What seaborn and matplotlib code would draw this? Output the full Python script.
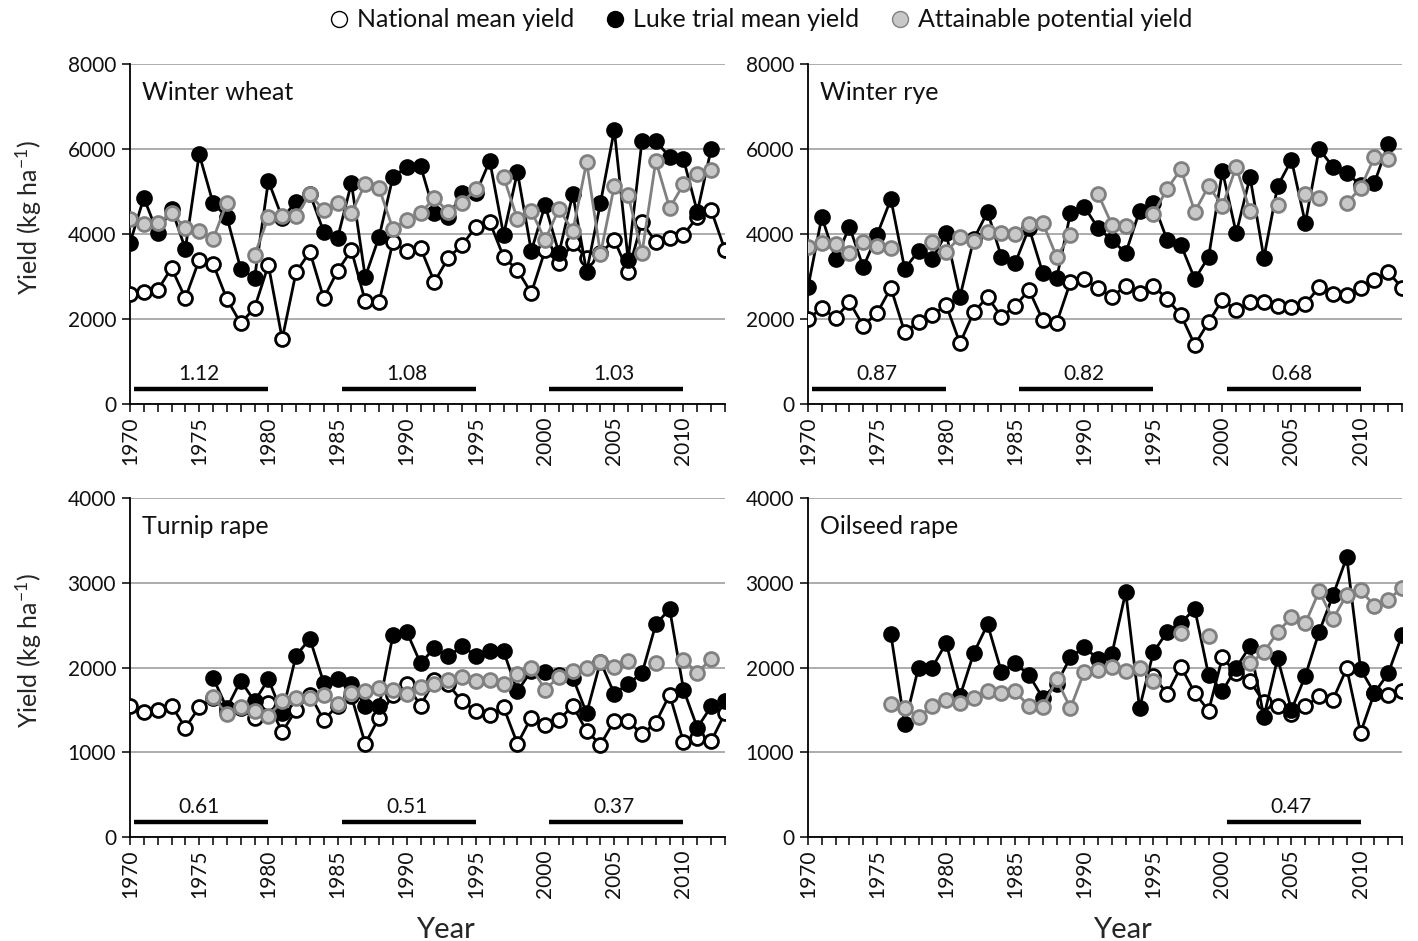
import numpy as np
import pandas as pd
import matplotlib
matplotlib.use('Agg')
import matplotlib.pyplot as plt
from matplotlib.lines import Line2D
from matplotlib.ticker import MultipleLocator
import seaborn as sns

nan = np.nan
years = list(range(1970, 2014))

# ---- winter wheat (kg/ha) ----
wheat_nat = [2600, 2640, 2680, 3200, 2490, 3390, 3300, 2470, 1900, 2260,
             3270, 1530, 3100, 3580, 2490, 3130, 3620, 2420, 2400, 3810,
             3600, 3670, 2870, 3440, 3740, 4170, 4280, 3460, 3150, 2610,
             3620, 3320, 3790, 3430, 3550, 3860, 3110, 4280, 3810, 3900,
             3980, 4400, 4560, 3620]
wheat_luke = [3790, 4850, 4020, 4600, 3650, 5880, 4730, 4400, 3180, 2960,
              5250, 4380, 4750, 4950, 4050, 3900, 5200, 2990, 3930, 5340,
              5580, 5600, 4490, 4400, 4960, 4960, 5720, 3980, 5460, 3600,
              4680, 3550, 4940, 3110, 4730, 6450, 3390, 6190, 6190, 5810,
              5760, 4520, 6000, nan]
wheat_att = [4350, 4230, 4250, 4500, 4140, 4080, 3880, 4730, nan, 3500,
             4400, 4420, 4420, 4930, 4560, 4730, 4490, 5180, 5080, 4120,
             4330, 4490, 4850, 4520, 4730, 5060, nan, 5340, 4350, 4540,
             3860, 4590, 4070, 5690, 3530, 5130, 4920, 3550, 5720, 4610,
             5170, 5410, 5510, nan]

# ---- winter rye ----
rye_nat = [2000, 2260, 2020, 2400, 1840, 2140, 2730, 1690, 1930, 2090,
           2330, 1430, 2160, 2520, 2050, 2310, 2680, 1970, 1910, 2870,
           2940, 2730, 2520, 2780, 2610, 2780, 2470, 2090, 1390, 1930,
           2450, 2210, 2400, 2400, 2310, 2280, 2350, 2750, 2590, 2560,
           2730, 2920, 3110, 2730]
rye_luke = [2750, 4400, 3410, 4170, 3220, 3980, 4820, 3180, 3600, 3410,
            4020, 2520, 3880, 4520, 3460, 3320, 4140, 3080, 2960, 4490,
            4640, 4140, 3860, 3550, 4540, 4730, 3860, 3740, 2940, 3460,
            5480, 4020, 5340, 3440, 5130, 5740, 4260, 6000, 5580, 5440,
            5150, 5200, 6120, nan]
rye_att = [3690, 3790, 3760, 3550, 3810, 3720, 3670, nan, nan, 3810,
           3580, 3930, 3830, 4040, 4020, 4000, 4230, 4260, 3460, 3980,
           nan, 4940, 4220, 4190, nan, 4470, 5060, 5530, 4520, 5130,
           4660, 5580, 4540, nan, 4680, nan, 4940, 4850, nan, 4730,
           5080, 5810, 5760, nan]

# ---- turnip rape ----
turnip_nat = [1550, 1470, 1500, 1550, 1290, 1530, 1640, 1480, 1520, 1400,
              1580, 1240, 1500, 1680, 1380, 1550, 1660, 1100, 1410, 1680,
              1800, 1550, 1850, 1800, 1600, 1490, 1440, 1530, 1100, 1410,
              1320, 1380, 1550, 1250, 1090, 1370, 1370, 1210, 1350, 1680,
              1120, 1170, 1130, 1460]
turnip_luke = [nan, nan, nan, nan, nan, nan, 1880, 1520, 1845, 1600,
               1860, 1460, 2140, 2340, 1820, 1860, 1810, 1550, 1540, 2380,
               2420, 2050, 2230, 2130, 2250, 2140, 2190, 2190, 1720, 1960,
               1950, 1910, 1880, 1460, 2070, 1690, 1810, 1930, 2510, 2690,
               1740, 1290, 1540, 1600]
turnip_att = [nan, nan, nan, nan, nan, nan, 1650, 1450, 1530, 1490,
              1430, 1600, 1640, 1640, 1670, 1570, 1700, 1720, 1760, 1740,
              1690, 1770, 1800, 1850, 1890, 1840, 1850, 1810, 1920, 2000,
              1740, 1890, 1960, 2000, 2070, 2010, 2080, nan, 2050, nan,
              2090, 1940, 2100, nan]

# ---- oilseed rape ----
oil_nat = [nan] * 25 + [1900, 1690, 2010, 1700, 1490,
                        2120, 1930, 1840, 1590, 1540, 1450, 1540, 1660, 1620, 1990,
                        1230, 1700, 1680, 1720]
oil_luke = [nan, nan, nan, nan, nan, nan, 2390, 1330, 2000, 2000,
            2290, 1660, 2170, 2510, 1950, 2050, 1910, 1640, 1810, 2120,
            2240, 2100, 2160, 2890, 1520, 2180, 2420, 2530, 2690, 1910,
            1720, 2000, 2250, 1420, 2110, 1500, 1900, 2420, 2850, 3300,
            1980, 1700, 1930, 2380]
oil_att = [nan, nan, nan, nan, nan, nan, 1570, 1520, 1420, 1540,
           1620, 1580, 1640, 1720, 1700, 1720, 1540, 1530, 1860, 1520,
           1950, 1970, 2010, 1960, 2000, 1840, nan, 2410, nan, 2370,
           nan, nan, 2050, 2180, 2420, 2590, 2520, 2900, 2570, 2860,
           2910, 2730, 2800, 2940]

crops = ['Winter wheat', 'Winter rye', 'Turnip rape', 'Oilseed rape']
series = {
    'Winter wheat': (wheat_nat, wheat_luke, wheat_att),
    'Winter rye': (rye_nat, rye_luke, rye_att),
    'Turnip rape': (turnip_nat, turnip_luke, turnip_att),
    'Oilseed rape': (oil_nat, oil_luke, oil_att),
}
ymax = {'Winter wheat': 8000, 'Winter rye': 8000, 'Turnip rape': 4000, 'Oilseed rape': 4000}
# ratio labels over the decade bars
period_starts = [1970, 1985, 2000]
ratios = {
    'Winter wheat': ['1.12', '1.08', '1.03'],
    'Winter rye': ['0.87', '0.82', '0.68'],
    'Turnip rape': ['0.61', '0.51', '0.37'],
    'Oilseed rape': [None, None, '0.47'],
}
legend_labels = ['National mean yield', 'Luke trial mean yield', 'Attainable potential yield']

sns.set_theme(style='white')
plt.rcParams['font.family'] = ['Lato', 'DejaVu Sans']
plt.rcParams['mathtext.default'] = 'regular'
plt.rcParams['text.color'] = '#111111'

GRAY_FILL = '#c8c8c8'
GRAY_LINE = '#808080'
styles = [
    dict(color='black', markerfacecolor='white', markeredgecolor='black'),
    dict(color='black', markerfacecolor='black', markeredgecolor='black'),
    dict(color=GRAY_LINE, markerfacecolor=GRAY_FILL, markeredgecolor=GRAY_LINE),
]

fig = plt.figure(figsize=(14.18, 9.41), dpi=100)
W, H = 1418, 941
rects = {
    'Winter wheat': (130, 64, 725, 404),
    'Winter rye': (808, 64, 1402, 404),
    'Turnip rape': (130, 498, 725, 837),
    'Oilseed rape': (808, 498, 1402, 837),
}


def draw_series(ax, vals, style, z):
    df = pd.DataFrame({'year': years, 'y': vals})
    df['seg'] = df['y'].isna().cumsum()
    df = df.dropna()
    sns.lineplot(data=df, x='year', y='y', units='seg', estimator=None, ax=ax,
                 marker='o', markersize=10, markeredgewidth=2.0, linewidth=2.0,
                 zorder=z, legend=False, **style)


for i, crop in enumerate(crops):
    l, t, r, b = rects[crop]
    ax = fig.add_axes([l / W, 1 - b / H, (r - l) / W, (b - t) / H])
    for j, vals in enumerate(series[crop]):
        draw_series(ax, vals, styles[j], 3 + j)

    top = ymax[crop]
    ax.set_xlim(1970, 2013)
    ax.set_ylim(0, top)
    ax.yaxis.set_major_locator(MultipleLocator(top / 4))
    ax.xaxis.set_minor_locator(MultipleLocator(1))
    ax.set_xticks(range(1970, 2011, 5))
    ax.set_xticklabels([str(y) for y in range(1970, 2011, 5)], rotation=90)
    ax.tick_params(axis='x', which='both', direction='out', length=6, width=1.1,
                   bottom=True, labelsize=15, pad=3, color='black', labelcolor='#111111')
    ax.tick_params(axis='y', which='major', direction='out', length=6, width=1.1,
                   left=True, labelsize=15, pad=4, color='black', labelcolor='#111111')
    ax.yaxis.grid(True, color='#a6a6a6', linewidth=1.3)
    ax.xaxis.grid(False)
    ax.set_axisbelow(True)
    for s in ['top', 'right']:
        ax.spines[s].set_visible(False)
    for s in ['left', 'bottom']:
        ax.spines[s].set_color('black')
        ax.spines[s].set_linewidth(1.3)

    ax.text(0.02, 0.915, crop, transform=ax.transAxes, fontsize=18,
            ha='left', va='center')

    for start, lab in zip(period_starts, ratios[crop]):
        if lab is None:
            continue
        ax.hlines(top * 0.045, start + 0.3, start + 10, color='black', linewidth=3.2, zorder=2)
        ax.text(start + 5, top * 0.088, lab, ha='center', va='center', fontsize=15)

    if i % 2 == 0:
        ax.set_ylabel('Yield (kg ha$^{-1}$)', fontsize=18)
        ax.yaxis.set_label_coords(-0.145, 0.55)
    else:
        ax.set_ylabel('')
    if i >= 2:
        ax.set_xlabel('Year', fontsize=21)
        ax.xaxis.set_label_coords(0.53, -0.235)
    else:
        ax.set_xlabel('')

handles = [Line2D([], [], linestyle='none', marker='o', markersize=11.5, markeredgewidth=1.0,
                  markerfacecolor=fc, markeredgecolor=ec)
           for fc, ec in [('white', 'black'), ('black', 'black'), (GRAY_FILL, GRAY_LINE)]]
fig.legend(handles, legend_labels, loc='center', bbox_to_anchor=(0.536, 0.979), ncol=3,
           frameon=False, fontsize=18, handlelength=0.9, handletextpad=0.25,
           columnspacing=1.2)

fig.savefig('out.png', dpi=100)
